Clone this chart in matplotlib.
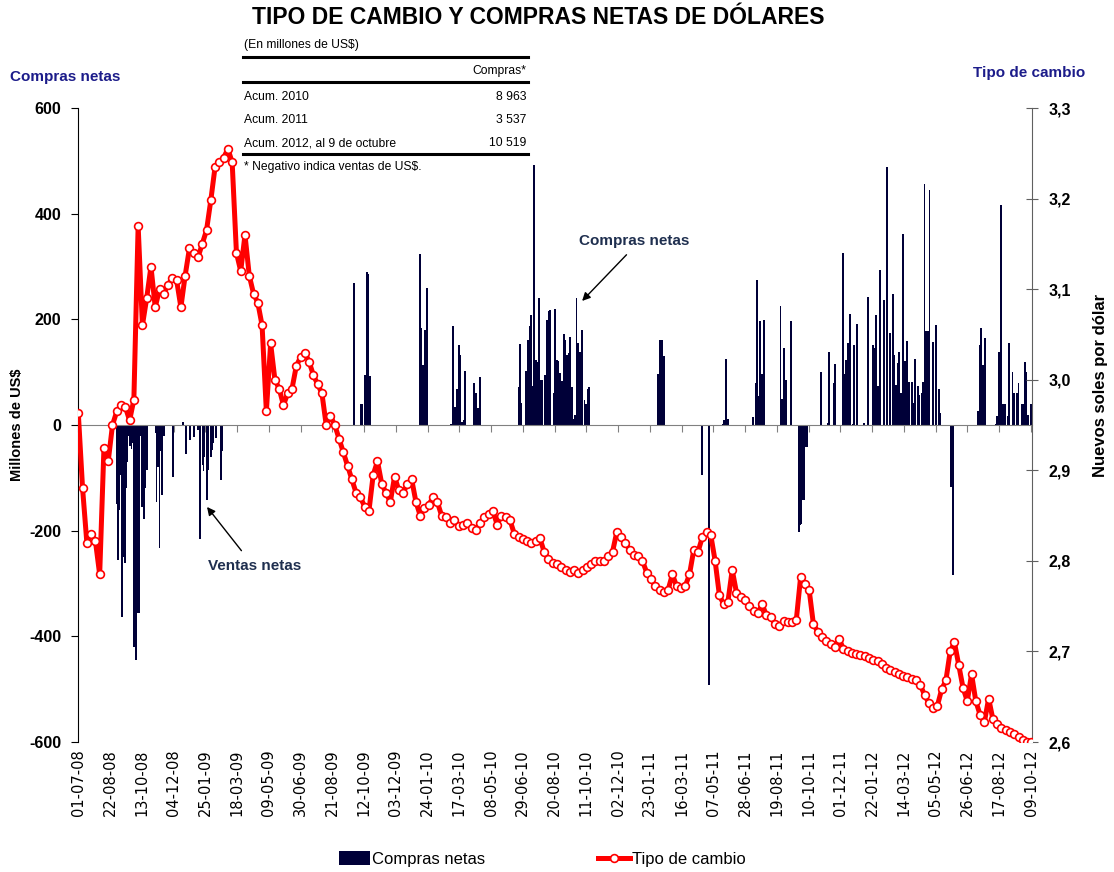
import matplotlib
matplotlib.use("Agg")
import matplotlib.pyplot as plt
from matplotlib.lines import Line2D
from matplotlib.patches import Patch
import numpy as np
import pandas as pd

W, H = 1114, 872
START = pd.Timestamp("2008-07-01")

# etiquetas del eje x (cada 52 dias)
x_labels = ["01-07-08", "22-08-08", "13-10-08", "04-12-08", "25-01-09", "18-03-09",
            "09-05-09", "30-06-09", "21-08-09", "12-10-09", "03-12-09", "24-01-10",
            "17-03-10", "08-05-10", "29-06-10", "20-08-10", "11-10-10", "02-12-10",
            "23-01-11", "16-03-11", "07-05-11", "28-06-11", "19-08-11", "10-10-11",
            "01-12-11", "22-01-12", "14-03-12", "05-05-12", "26-06-12", "17-08-12",
            "09-10-12"]

# tipo de cambio (S/. por US$), una lectura por semana desde el 01-07-08
tc_values = [
    2.963, 2.880, 2.820, 2.830, 2.822, 2.785, 2.925, 2.910, 2.950, 2.965,
    2.972, 2.970, 2.955, 2.978, 3.170, 3.060, 3.090, 3.125, 3.080, 3.100,
    3.095, 3.105, 3.112, 3.110, 3.080, 3.115, 3.145, 3.140, 3.135, 3.150,
    3.165, 3.198, 3.235, 3.240, 3.245, 3.255, 3.240, 3.140, 3.120, 3.160,
    3.115, 3.095, 3.085, 3.060, 2.965, 3.040, 3.000, 2.990, 2.972, 2.985,
    2.990, 3.015, 3.025, 3.030, 3.020, 3.005, 2.995, 2.985, 2.950, 2.960,
    2.950, 2.935, 2.920, 2.905, 2.890, 2.875, 2.870, 2.860, 2.855, 2.895,
    2.910, 2.885, 2.875, 2.865, 2.893, 2.878, 2.875, 2.885, 2.890, 2.865,
    2.850, 2.858, 2.862, 2.870, 2.865, 2.850, 2.848, 2.842, 2.845, 2.838,
    2.840, 2.842, 2.836, 2.834, 2.842, 2.848, 2.852, 2.855, 2.840, 2.850,
    2.848, 2.845, 2.830, 2.826, 2.824, 2.822, 2.820, 2.822, 2.825, 2.810,
    2.802, 2.798, 2.796, 2.793, 2.790, 2.788, 2.790, 2.787, 2.790, 2.793,
    2.797, 2.800, 2.800, 2.800, 2.805, 2.810, 2.832, 2.826, 2.820, 2.812,
    2.806, 2.805, 2.800, 2.787, 2.780, 2.772, 2.768, 2.766, 2.768, 2.785,
    2.772, 2.770, 2.772, 2.785, 2.812, 2.810, 2.826, 2.832, 2.828, 2.800,
    2.762, 2.752, 2.755, 2.790, 2.765, 2.760, 2.757, 2.750, 2.745, 2.742,
    2.752, 2.740, 2.738, 2.730, 2.728, 2.734, 2.732, 2.733, 2.735, 2.782,
    2.775, 2.768, 2.730, 2.722, 2.716, 2.712, 2.708, 2.705, 2.714, 2.703,
    2.700, 2.698, 2.697, 2.696, 2.695, 2.693, 2.691, 2.689, 2.686, 2.682,
    2.679, 2.677, 2.675, 2.673, 2.672, 2.670, 2.668, 2.663, 2.652, 2.643,
    2.638, 2.640, 2.658, 2.668, 2.700, 2.710, 2.685, 2.660, 2.645, 2.675,
    2.645, 2.630, 2.622, 2.648, 2.625, 2.620, 2.615, 2.613, 2.611, 2.609,
    2.606, 2.602, 2.600, 2.600,
]

# compras netas diarias (millones de US$): dia desde el 01-07-08 y monto
cn_day = [
    63, 64, 65, 66, 67, 70, 71, 72, 73, 74, 77, 78, 79, 80, 81, 84, 85, 86, 87, 88,
    91, 92, 93, 94, 95, 98, 99, 100, 101, 105, 106, 107, 108, 109, 112, 113, 127, 128,
    129, 130, 133, 134, 137, 140, 155, 156, 171, 177, 183, 190, 196, 199, 204, 205,
    206, 211, 212, 213, 218, 219, 220, 225, 234, 235,
    452, 463, 464, 470, 473, 474, 478, 559, 562, 565, 568, 571, 610, 613, 614, 617,
    620, 623, 625, 628, 631, 633, 648, 651, 654, 658, 722, 723, 726, 733, 736, 739,
    741, 744, 747, 750, 752, 755, 758, 760, 765, 768, 770, 773, 779, 781, 784, 786,
    789, 792, 795, 797, 800, 803, 805, 808, 811, 814, 816, 819, 822, 825, 829, 832,
    834, 837, 949, 953, 956, 959,
    1021, 1033, 1056, 1058, 1061, 1064, 1105, 1109, 1112, 1114, 1117, 1120, 1123,
    1150, 1153, 1156, 1159, 1167, 1180, 1182, 1184, 1187, 1189, 1192, 1194,
    1217, 1228, 1230, 1238, 1240, 1252, 1254, 1258, 1260, 1264, 1269, 1271, 1275,
    1287, 1293, 1302, 1305, 1307, 1310, 1313, 1320, 1324, 1330, 1334, 1336, 1339,
    1342, 1344, 1347, 1351, 1354, 1357, 1361, 1365, 1369, 1371, 1375, 1377, 1382,
    1384, 1386, 1388, 1391, 1394, 1400, 1405, 1410, 1412, 1429, 1433, 1474, 1476,
    1478, 1480, 1482, 1485, 1503, 1505, 1508, 1511, 1515, 1518, 1522, 1524, 1530,
    1533, 1537, 1540, 1545, 1548, 1551, 1553, 1556, 1560,
]
cn_val = [
    -69, -150, -255, -160, -60, -95, -200, -363, -250, -142, -262, -120, -117, -70,
    -20, -35, -40, -30, -45, -35, -420, -60, -30, -445, -394, -356, -356, -250, -20,
    -155, -47, -90, -177, -120, -85, -40, -16, -145, -60, -79, -233, -50, -132, -20,
    -98, -73, 6, -54, -28, -22, -9, -215, -76, -88, -60, -142, -85, -73, -60, -47,
    -35, -25, -104, -50,
    269, 40, 40, 95, 290, 285, 93, 324, 183, 114, 179, 259, 2, 19, 187, 35,
    69, 151, 132, 6, 9, 103, 80, 61, 32, 91, 71, 153, 42, 103, 160, 187,
    208, 73, 492, 123, 120, 240, 86, 86, 94, 199, 216, 218, 60, 219, 123, 122,
    98, 84, 173, 161, 132, 136, 166, 71, 11, 19, 240, 156, 139, 180, 47, 40,
    69, 71, 97, 160, 160, 131,
    -95, -493, 2, 9, 125, 11, 16, 79, 274, 55, 196, 97, 199,
    225, 49, 145, 85, 196, -202, -189, -187, -142, -142, -41, -41,
    100, 3, 138, 79, 115, 325, 97, 123, 156, 210, 2, 151, 191,
    3, 242, 151, 145, 208, 73, 293, 237, 488, 174, 248, 132, 76,
    117, 138, 60, 362, 122, 159, 82, 82, 42, 125, 74, 56, 60,
    82, 456, 177, 177, 445, 158, 189, 68, 23, -117, -284, 27, 151,
    183, 30, 114, 165, 2, 17, 138, 416, 40, 40, 17, 156, 100,
    60, 60, 79, 40, 40, 120, 101, 19, 40,
]

tabla_rows = ["Acum. 2010", "Acum. 2011", "Acum. 2012, al 9 de octubre"]
tabla_vals = ["8 963", "3 537", "10 519"]

BAR = "#000038"
RED = "#ff0000"
NAVY = "#1c1c8a"
SLATE = "#1f2f4f"

plt.rcParams["font.family"] = ["Liberation Sans", "DejaVu Sans"]
plt.rcParams["axes.unicode_minus"] = False
NARROW = ["Liberation Sans Narrow", "Liberation Sans", "DejaVu Sans"]
TAB_FS = 8.7

fig = plt.figure(figsize=(W / 100, H / 100), dpi=100)
ax = fig.add_axes([78 / W, 1 - 742 / H, (1032 - 78) / W, (742 - 108) / H])
ax2 = ax.twinx()


def ftext(x, y, s, **kw):
    return fig.text(x / W, 1 - y / H, s, **kw)


def fline(x0, x1, y, lw=2.2):
    fig.add_artist(Line2D([x0 / W, x1 / W], [1 - y / H] * 2, lw=lw, color="black"))


# barras
ax.bar(cn_day, cn_val, width=3.0, color=BAR, linewidth=0, zorder=2)
ax.set_ylim(-600, 600)
ax.set_xlim(-0.5, 1562)
ax.set_yticks(np.arange(-600, 601, 200))
ax.tick_params(axis="y", direction="out", length=5, pad=7, labelsize=11.5)
for t in ax.get_yticklabels():
    t.set_fontweight("bold")

tick_days = [(pd.to_datetime(s, format="%d-%m-%y") - START).days for s in x_labels]
ax.set_xticks(tick_days)
ax.tick_params(axis="x", direction="out", length=5, color="#808080", labelbottom=False)
ax.spines["bottom"].set_position(("data", 0))
ax.spines["bottom"].set_color("#808080")
ax.spines["top"].set_visible(False)
ax.spines["right"].set_visible(False)
for d, s in zip(tick_days, x_labels):
    ax.text(d, -0.012, s, transform=ax.get_xaxis_transform(), rotation=90,
            ha="center", va="top", fontsize=10.5, family="DejaVu Sans")

# tipo de cambio
tc_days = np.arange(len(tc_values)) * 7
ax2.plot(tc_days, tc_values, color=RED, lw=3.6, marker="o", ms=5.6,
         mfc="white", mec=RED, mew=1.2, zorder=3)
ax2.set_ylim(2.6, 3.3)
ax2.set_yticks(np.round(np.arange(2.6, 3.31, 0.1), 1))
ax2.set_yticklabels([f"{v:.1f}".replace(".", ",") for v in ax2.get_yticks()],
                    fontweight="bold", fontsize=11.5)
ax2.tick_params(axis="y", direction="inout", length=8, pad=8, color="#606060")
for side in ["top", "bottom", "left"]:
    ax2.spines[side].set_visible(False)
ax2.spines["right"].set_color("#606060")

# titulos y rotulos
ftext(538, 18, "TIPO DE CAMBIO Y COMPRAS NETAS DE DÓLARES", ha="center", va="center",
      fontsize=16.5, fontweight="bold")
ftext(10, 77, "Compras netas", ha="left", va="center", fontsize=11,
      fontweight="bold", color=NAVY)
ftext(1085, 73, "Tipo de cambio", ha="right", va="center", fontsize=11,
      fontweight="bold", color=NAVY)
ftext(17, 425, "Millones de US$", rotation=90, ha="center", va="center",
      fontsize=10.5, fontweight="bold")
ftext(1100, 385, "Nuevos soles por dólar", rotation=90, ha="center", va="center",
      fontsize=12, fontweight="bold")

# cuadro de acumulados
ftext(244, 45, "(En millones de US$)", ha="left", va="center", fontsize=TAB_FS, family=NARROW)
fline(243, 528, 57)
ftext(526, 71, "Compras*", ha="right", va="center", fontsize=TAB_FS, family=NARROW)
fline(243, 528, 82)
for i, (lab, val) in enumerate(zip(tabla_rows, tabla_vals)):
    y = 97 + 23 * i
    ftext(244, y, lab, ha="left", va="center", fontsize=TAB_FS, family=NARROW)
    ftext(526, y, val, ha="right", va="center", fontsize=TAB_FS, family=NARROW)
fline(243, 528, 154)
ftext(244, 167, "* Negativo indica ventas de US$.", ha="left", va="center",
      fontsize=TAB_FS, family=NARROW)

# anotaciones
ax.text(910, 348, "Compras netas", ha="center", va="center", fontsize=11,
        fontweight="bold", color=SLATE)
ax.annotate("", xy=(822, 231), xytext=(901, 326),
            arrowprops=dict(arrowstyle="-|>", color="black", lw=1, mutation_scale=12))
ax.text(288, -267, "Ventas netas", ha="center", va="center", fontsize=11,
        fontweight="bold", color=SLATE)
ax.annotate("", xy=(208, -151), xytext=(270, -242),
            arrowprops=dict(arrowstyle="-|>", color="black", lw=1, mutation_scale=12))

# leyenda
handles = [Patch(facecolor=BAR, edgecolor="none"),
           Line2D([], [], color=RED, lw=3.6, marker="o", ms=5.6, mfc="white",
                  mec=RED, mew=1.2)]
fig.legend(handles, ["Compras netas", "Tipo de cambio"], loc="center",
           bbox_to_anchor=(542 / W, 1 - 859 / H), ncol=2, frameon=False,
           handlelength=1.9, handleheight=0.85, handletextpad=0.1, columnspacing=6.8,
           prop=dict(family=NARROW, size=12))

fig.savefig("out.png", dpi=100)
